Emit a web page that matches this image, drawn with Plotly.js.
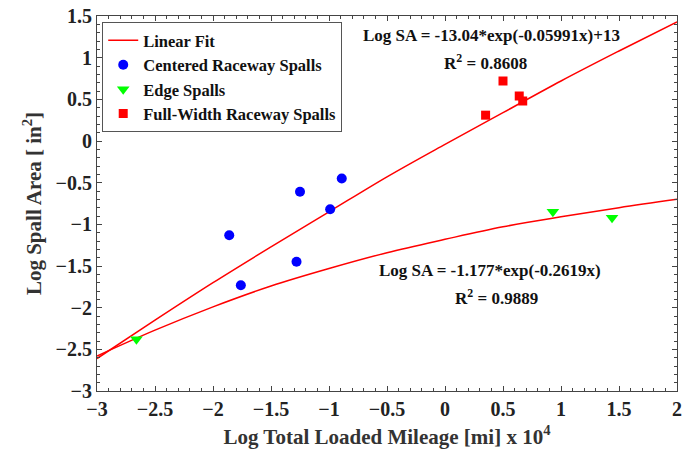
<!DOCTYPE html>
<html><head><meta charset="utf-8">
<script src="https://cdn.plot.ly/plotly-3.0.1.min.js"></script>
<style>body{margin:0;background:#fff}#c{width:696px;height:461px}</style>
</head><body><div id="c"></div>
<script>
// Data
const centeredX = [-1.86, -1.76, -1.25, -1.28, -0.99, -0.89];
const centeredY = [-1.13, -1.73, -0.61, -1.45, -0.82, -0.45];
const edgeX = [-2.66, 0.93, 1.44];
const edgeY = [-2.38, -0.85, -0.92];
const fullX = [0.35, 0.50, 0.64, 0.67];
const fullY = [0.31, 0.72, 0.54, 0.48];
// Fit curves
const fitX = [-3, -2.5, -2, -1.5, -1, -0.5, 0, 0.5, 1, 1.5, 2];
const fit1Y = [-2.61, -2.15, -1.70, -1.27, -0.85, -0.43, -0.04, 0.34, 0.72, 1.08, 1.43];
const fit2Y = [-2.58, -2.27, -1.99, -1.74, -1.53, -1.34, -1.18, -1.03, -0.91, -0.80, -0.70];

const F = "Liberation Serif, Times New Roman, serif";
const traces = [
  {x: fitX, y: fit1Y, mode: 'lines', name: 'Linear Fit', line: {color: '#ff0000', width: 1.5, shape: 'spline'}},
  {x: fitX, y: fit2Y, mode: 'lines', name: 'fit2', showlegend: false, line: {color: '#ff0000', width: 1.5, shape: 'spline'}},
  {x: centeredX, y: centeredY, mode: 'markers', name: 'Centered Raceway Spalls', marker: {color: '#0000ff', size: 10, symbol: 'circle'}},
  {x: edgeX, y: edgeY, mode: 'markers', name: 'Edge Spalls', marker: {color: '#00ff00', size: 11, symbol: 'triangle-down'}},
  {x: fullX, y: fullY, mode: 'markers', name: 'Full-Width Raceway Spalls', marker: {color: '#ff0000', size: 9, symbol: 'square'}}
];
const axisCommon = {
  showgrid: false, zeroline: false, showline: true, linecolor: '#444', linewidth: 1, mirror: 'ticks',
  ticks: 'inside', ticklen: 5, tickcolor: '#444', dtick: 0.5,
  minor: {ticks: 'inside', ticklen: 3, dtick: 0.1, tickcolor: '#444'},
  tickfont: {family: F, size: 20, color: '#222', weight: 'bold'}
};
const layout = {
  width: 696, height: 461,
  margin: {l: 97, r: 19, t: 16, b: 70},
  paper_bgcolor: '#fff', plot_bgcolor: '#fff',
  font: {family: F, color: '#222'},
  xaxis: Object.assign({}, axisCommon, {range: [-3, 2], tick0: -3,
    title: {text: 'Log Total Loaded Mileage [mi] x 10<sup>4</sup>', font: {family: F, size: 21, weight: 'bold', color: '#333'}, standoff: 10}}),
  yaxis: Object.assign({}, axisCommon, {range: [-3, 1.5], tick0: -3,
    title: {text: 'Log Spall Area [ in<sup>2</sup>]', font: {family: F, size: 21, weight: 'bold', color: '#333'}, standoff: 8}}),
  legend: {x: 0.009, y: 0.984, xanchor: 'left', yanchor: 'top', bgcolor: '#fff', bordercolor: '#555', borderwidth: 1,
    font: {family: F, size: 16.5, weight: 'bold', color: '#111'}, tracegroupgap: 0, itemwidth: 30},
  showlegend: true,
  annotations: [
    {x: 0.405, y: 1.27, xref: 'x', yref: 'y', text: 'Log SA = -13.04*exp(-0.05991x)+13', showarrow: false, font: {family: F, size: 17, weight: 'bold', color: '#111'}},
    {x: 0.345, y: 0.95, xref: 'x', yref: 'y', text: 'R<sup>2</sup> = 0.8608', showarrow: false, font: {family: F, size: 17, weight: 'bold', color: '#111'}},
    {x: 0.388, y: -1.55, xref: 'x', yref: 'y', text: 'Log SA = -1.177*exp(-0.2619x)', showarrow: false, font: {family: F, size: 17, weight: 'bold', color: '#111'}},
    {x: 0.448, y: -1.87, xref: 'x', yref: 'y', text: 'R<sup>2</sup> = 0.9889', showarrow: false, font: {family: F, size: 17, weight: 'bold', color: '#111'}}
  ]
};
Plotly.newPlot('c', traces, layout, {displayModeBar: false, staticPlot: true});
</script></body></html>
